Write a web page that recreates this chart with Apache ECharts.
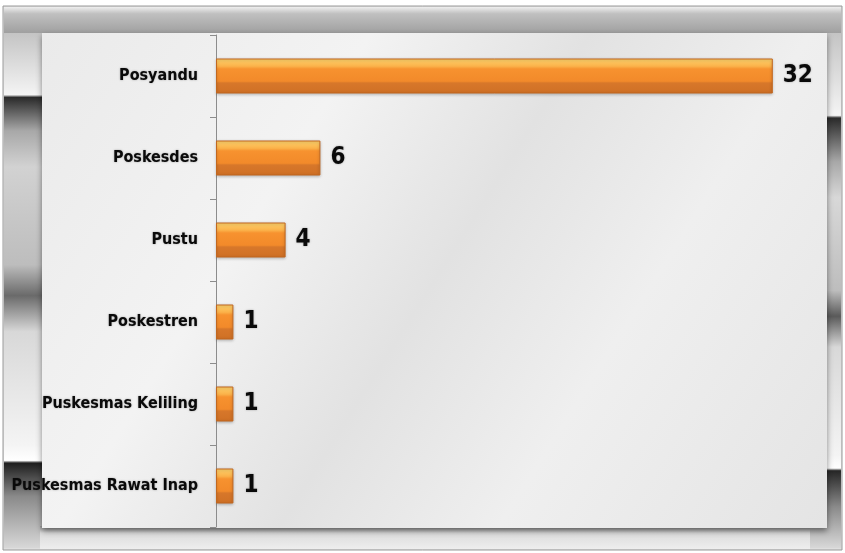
<!DOCTYPE html>
<html>
<head>
<meta charset="utf-8">
<script src="https://cdn.jsdelivr.net/npm/echarts@6/dist/echarts.min.js"></script>
<style>
html,body{margin:0;padding:0;background:#fff;}
#chart{width:845px;height:553px;}
</style>
</head>
<body>
<div id="chart"></div>
<script>
const categories = ['Posyandu','Poskesdes','Pustu','Poskestren','Puskesmas Keliling','Puskesmas Rawat Inap'];
const values = [32, 6, 4, 1, 1, 1];

const chart = echarts.init(document.getElementById('chart'));
const FONT = '"DejaVu Sans Condensed","Liberation Sans Narrow","Liberation Sans",sans-serif';

function vgrad(stops){ return new echarts.graphic.LinearGradient(0,0,0,1,stops); }
function sideStrip(x, stops){
  return {type:'rect', z:-20, silent:true, shape:{x:x,y:33,width:40,height:515},
    style:{fill:vgrad(stops)}};
}
const leftStops = [
  {offset:0,color:'#c4c4c4'},{offset:0.12,color:'#f4f4f4'},
  {offset:0.125,color:'#2a2a2a'},{offset:0.19,color:'#a8a8a8'},{offset:0.26,color:'#d2d2d2'},
  {offset:0.45,color:'#bdbdbd'},{offset:0.51,color:'#6a6a6a'},{offset:0.58,color:'#d8d8d8'},
  {offset:0.8,color:'#f4f4f4'},{offset:0.83,color:'#ffffff'},{offset:0.835,color:'#1e1e1e'},
  {offset:0.9,color:'#8a8a8a'},{offset:1,color:'#d8d8d8'}
];
const rightStops = [
  {offset:0,color:'#c4c4c4'},{offset:0.16,color:'#f4f4f4'},
  {offset:0.165,color:'#2a2a2a'},{offset:0.25,color:'#a8a8a8'},{offset:0.32,color:'#d8d8d8'},
  {offset:0.5,color:'#bdbdbd'},{offset:0.55,color:'#5a5a5a'},{offset:0.61,color:'#d8d8d8'},
  {offset:0.82,color:'#f4f4f4'},{offset:0.845,color:'#ffffff'},{offset:0.85,color:'#262626'},
  {offset:0.92,color:'#8a8a8a'},{offset:1,color:'#d8d8d8'}
];

const graphics = [
  {type:'rect', z:-30, silent:true, shape:{x:0,y:0,width:845,height:553}, style:{fill:'#ffffff'}},
  {type:'rect', z:-25, silent:true, shape:{x:3,y:6,width:839,height:544},
    style:{fill:'#dedede', stroke:'#9a9a9a', lineWidth:1}},
  {type:'rect', z:-24, silent:true, shape:{x:4,y:7,width:837,height:27},
    style:{fill:vgrad([{offset:0,color:'#eeeeee'},{offset:0.25,color:'#c0c0c0'},{offset:1,color:'#9e9e9e'}])}},
  sideStrip(4, leftStops),
  sideStrip(801, rightStops),
  {type:'rect', z:-19, silent:true, shape:{x:40,y:526,width:770,height:23},
    style:{fill:vgrad([{offset:0,color:'#9a9a9a'},{offset:0.3,color:'#dcdcdc'},{offset:1,color:'#eeeeee'}])}},
  {type:'rect', z:-18, silent:true, shape:{x:42,y:33,width:785,height:495},
    style:{fill:new echarts.graphic.LinearGradient(0,0,1,1,[
      {offset:0,color:'#eaeaea'},{offset:0.3,color:'#f3f3f3'},{offset:0.5,color:'#e2e2e2'},
      {offset:0.7,color:'#efefef'},{offset:1,color:'#e4e4e4'}]),
      shadowBlur:6, shadowColor:'rgba(0,0,0,0.45)', shadowOffsetY:3}}
];

chart.setOption({
  animation:false,
  backgroundColor:'transparent',
  graphic: graphics,
  grid:{left:216, right:20, top:35, bottom:26, outerBoundsMode:'none', containLabel:false},
  xAxis:{type:'value', min:0, max:35, show:false},
  yAxis:{
    type:'category', data:categories, inverse:true,
    axisLine:{show:true, lineStyle:{color:'#8c8c8c', width:1}},
    axisTick:{show:true, length:6, lineStyle:{color:'#8c8c8c'}},
    axisLabel:{color:'#0a0a0a', fontFamily:FONT, fontWeight:'bold', fontSize:16, margin:18,
      textShadowColor:'rgba(0,0,0,0.35)', textShadowBlur:2}
  },
  series:[{
    type:'bar', data:values, barWidth:35,
    itemStyle:{
      color:vgrad([{offset:0,color:'#ffd56e'},{offset:0.22,color:'#fbb24a'},{offset:0.3,color:'#f7922f'},
        {offset:0.65,color:'#f28a2a'},{offset:0.7,color:'#d7772a'},{offset:1,color:'#cf7025'}]),
      borderColor:'#c2671f', borderWidth:1,
      shadowColor:'rgba(0,0,0,0.25)', shadowBlur:3, shadowOffsetY:1
    },
    label:{show:true, position:'right', distance:10, color:'#0a0a0a', fontFamily:FONT,
      fontWeight:'bold', fontSize:24, textShadowColor:'rgba(0,0,0,0.35)', textShadowBlur:2}
  }]
});
</script>
</body>
</html>
